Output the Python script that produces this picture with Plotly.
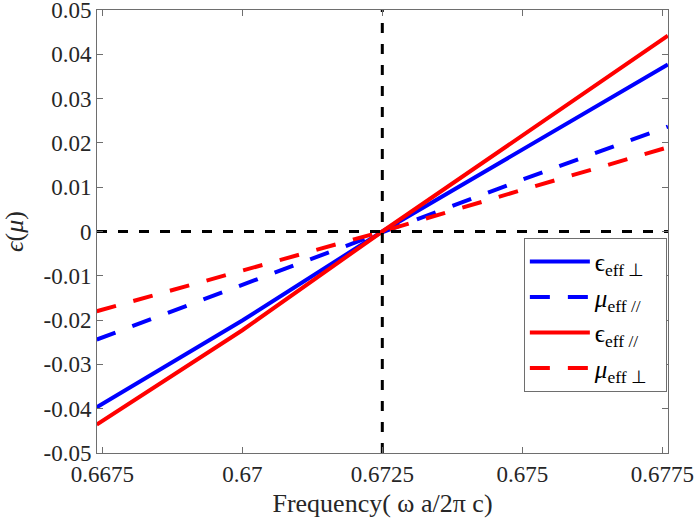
import plotly.graph_objects as go

# ---- data ----
freq = [0.6674, 0.6700, 0.6725, 0.6750, 0.6776]
eps_perp = [-0.0397, -0.0201, 0.0, 0.0185, 0.0377]   # blue solid
mu_par = [-0.0244, -0.0120, 0.0, 0.0117, 0.0237]     # blue dashed
eps_par = [-0.0436, -0.0223, 0.0, 0.0217, 0.0442]    # red solid
mu_perp = [-0.0180, -0.0089, 0.0, 0.0094, 0.0190]    # red dashed

x_range = [0.667405, 0.677602]
y_range = [-0.05002, 0.05002]
ref_x = 0.6725
ref_y = 0.0

x_ticks = [0.6675, 0.67, 0.6725, 0.675, 0.6775]
x_ticktext = ["0.6675", "0.67", "0.6725", "0.675", "0.6775"]
y_ticks = [-0.05, -0.04, -0.03, -0.02, -0.01, 0.0, 0.01, 0.02, 0.03, 0.04, 0.05]
y_ticktext = ["-0.05", "-0.04", "-0.03", "-0.02", "-0.01", "0",
              "0.01", "0.02", "0.03", "0.04", "0.05"]

names = ["ϵ<sub>eff ⊥</sub>\u00a0\u00a0", "<i>μ</i><sub>eff //</sub>\u00a0\u00a0",
         "ϵ<sub>eff //</sub>\u00a0\u00a0", "<i>μ</i><sub>eff ⊥</sub>\u00a0\u00a0"]

FONT = "Liberation Serif"
coldash = "20px,18px"

fig = go.Figure()
fig.add_trace(go.Scatter(x=freq, y=eps_perp, mode="lines", name=names[0],
                         line=dict(color="#0000ff", width=4)))
fig.add_trace(go.Scatter(x=freq, y=mu_par, mode="lines", name=names[1],
                         line=dict(color="#0000ff", width=4, dash=coldash)))
fig.add_trace(go.Scatter(x=freq, y=eps_par, mode="lines", name=names[2],
                         line=dict(color="#ff0000", width=4)))
fig.add_trace(go.Scatter(x=freq, y=mu_perp, mode="lines", name=names[3],
                         line=dict(color="#ff0000", width=4, dash=coldash)))

# reference dashed black lines
fig.add_trace(go.Scatter(x=x_range, y=[ref_y, ref_y], mode="lines", showlegend=False,
                         line=dict(color="#000000", width=3, dash="10px,11px"),
                         hoverinfo="skip"))
fig.add_trace(go.Scatter(x=[ref_x, ref_x], y=y_range, mode="lines", showlegend=False,
                         line=dict(color="#000000", width=3, dash="10px,11px"),
                         hoverinfo="skip"))

axis_common = dict(showline=True, linecolor="#6e6e6e", linewidth=1, mirror="ticks",
                   ticks="inside", ticklen=6, tickcolor="#6e6e6e", tickwidth=1,
                   showgrid=False, zeroline=False, automargin=False,
                   ticklabeloverflow="allow",
                   tickfont=dict(family=FONT, size=23, color="#262626"))

fig.update_xaxes(range=x_range, tickmode="array", tickvals=x_ticks, ticktext=x_ticktext,
                 title=dict(text="Frequency( ω a/2π c)",
                            font=dict(family=FONT, size=26, color="#262626"), standoff=8),
                 **axis_common)
fig.update_yaxes(range=y_range, tickmode="array", tickvals=y_ticks, ticktext=y_ticktext,
                 title=dict(text="<i>ϵ</i>(<i>μ</i>)",
                            font=dict(family=FONT, size=26, color="#262626"), standoff=16),
                 **axis_common)

fig.update_layout(
    width=700, height=530,
    margin=dict(l=97, r=32, t=10, b=77),
    plot_bgcolor="white", paper_bgcolor="white",
    font=dict(family=FONT, size=23, color="#262626"),
    legend=dict(x=0.998, y=0.486, xanchor="right", yanchor="top",
                bgcolor="white", bordercolor="#6e6e6e", borderwidth=1,
                font=dict(family=FONT, size=25, color="#000000"),
                itemwidth=60, tracegroupgap=0),
    showlegend=True,
)

fig.write_html("out.html", config={"displayModeBar": False},
               post_script="document.body.style.margin='0';")
